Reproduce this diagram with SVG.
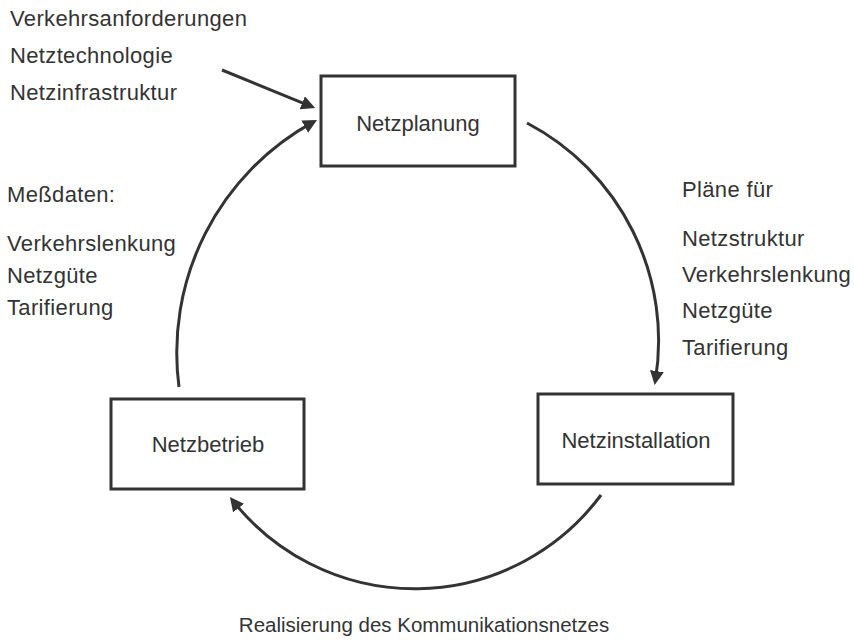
<svg xmlns="http://www.w3.org/2000/svg" width="854" height="641" viewBox="0 0 854 641">
  <style>
    .box { fill: #ffffff; stroke: #333333; stroke-width: 3; }
    .lbl { font-family: "Liberation Sans", Arial, sans-serif; font-size: 22px; letter-spacing: 0.35px; fill: #333333; }
    .node-lbl { font-family: "Liberation Sans", Arial, sans-serif; font-size: 22px; fill: #333333; text-anchor: middle; }
    .conn { fill: none; stroke: #333333; stroke-width: 3; marker-end: url(#head); }
  </style>
  <defs>
    <marker id="head" markerUnits="userSpaceOnUse" markerWidth="16" markerHeight="14" refX="10" refY="7" orient="auto">
      <path d="M0,0 L14,7 L0,14 Z" fill="#333333"/>
    </marker>
  </defs>

  <rect width="854" height="641" fill="#ffffff"/>

  <!-- cycle connectors -->
  <g id="connectors">
    <path class="conn" d="M222,70 L311.5,106.6"/>
    <path class="conn" d="M179,387 A263,263 0 0,1 313.5,121.9"/>
    <path class="conn" d="M527,123 A246,246 0 0,1 655.3,381"/>
    <path class="conn" d="M601,495 A232,232 0 0,1 232.4,500.2"/>
  </g>

  <g id="netzplanung">
    <rect class="box" x="321" y="76" width="194" height="90"/>
    <text class="node-lbl" x="418" y="131">Netzplanung</text>
  </g>

  <g id="netzinstallation">
    <rect class="box" x="538" y="394" width="195" height="90"/>
    <text class="node-lbl" x="636" y="448">Netzinstallation</text>
  </g>

  <g id="netzbetrieb">
    <rect class="box" x="111" y="399" width="193" height="90"/>
    <text class="node-lbl" x="208" y="452">Netzbetrieb</text>
  </g>

  <!-- inputs to planning -->
  <g id="eingaben">
    <text class="lbl" x="10" y="26">Verkehrsanforderungen</text>
    <text class="lbl" x="10" y="63">Netztechnologie</text>
    <text class="lbl" x="10" y="100">Netzinfrastruktur</text>
  </g>

  <!-- measured data -->
  <g id="messdaten">
    <text class="lbl" x="7" y="202">Meßdaten:</text>
    <text class="lbl" x="7" y="251">Verkehrslenkung</text>
    <text class="lbl" x="7" y="283">Netzgüte</text>
    <text class="lbl" x="7" y="315">Tarifierung</text>
  </g>

  <!-- plans -->
  <g id="plaene">
    <text class="lbl" x="682" y="197">Pläne für</text>
    <text class="lbl" x="682" y="246">Netzstruktur</text>
    <text class="lbl" x="682" y="282">Verkehrslenkung</text>
    <text class="lbl" x="682" y="318">Netzgüte</text>
    <text class="lbl" x="682" y="355">Tarifierung</text>
  </g>

  <text class="lbl" x="424" y="632" text-anchor="middle" style="font-size:20.5px;letter-spacing:0">Realisierung des Kommunikationsnetzes</text>
</svg>
